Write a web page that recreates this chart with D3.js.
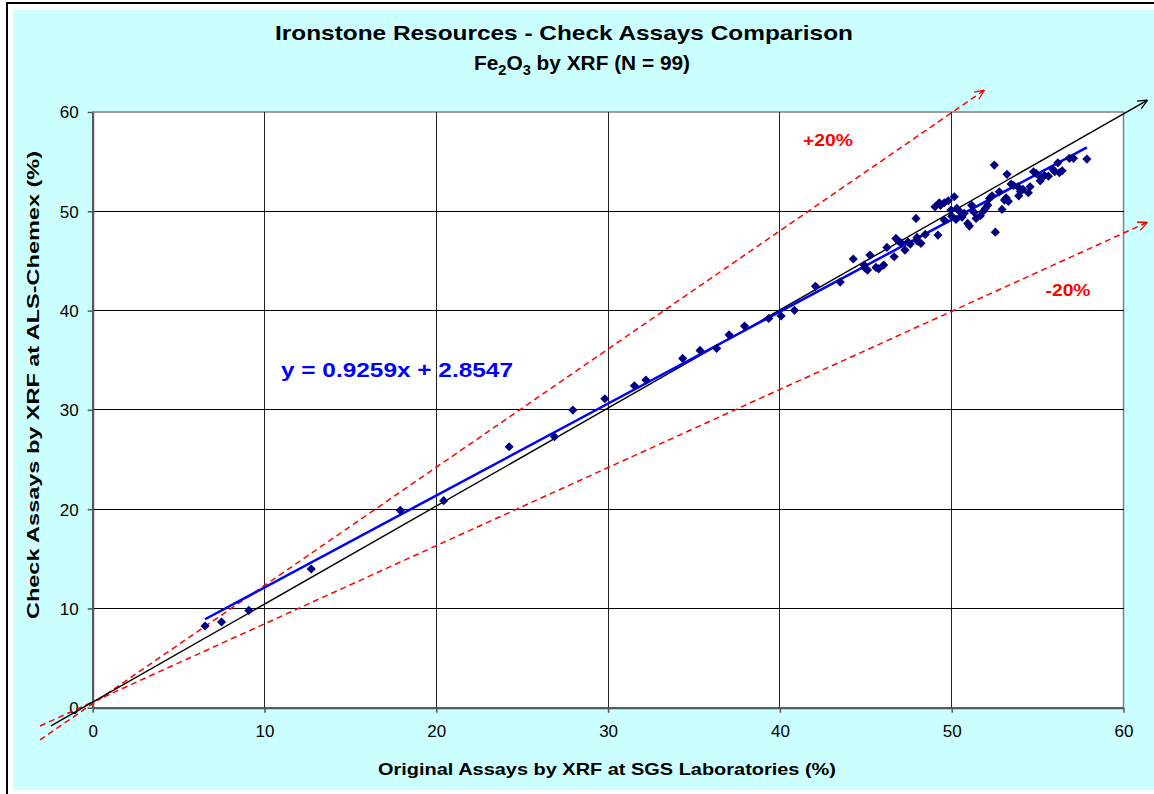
<!DOCTYPE html>
<html>
<head>
<meta charset="utf-8">
<script src="https://cdn.jsdelivr.net/npm/d3@7"></script>
<style>
  body { margin: 0; background: #fff; }
  text { font-family: "Liberation Sans", Arial, sans-serif; }
</style>
</head>
<body>
<svg id="chart"></svg>
<script>
const width = 1154;
const height = 794;

// SGS original assays (x) vs ALS-Chemex checks (y), Fe2O3 %
const sgs = [
  6.54, 7.5, 9.09, 12.72, 17.9, 20.43, 24.24, 26.88, 27.95, 29.81,
  31.53, 32.2, 34.34, 35.35, 36.32, 37.04, 37.94, 39.35, 40.07, 40.85,
  42.07, 43.51, 44.27, 44.9, 45.1, 45.24, 45.59, 46.04, 46.23, 46.65,
  46.75, 47.05, 47.28, 47.59, 47.92, 47.98, 48.21, 48.46, 49.03, 49.2,
  49.28, 49.57, 49.57, 49.8, 50.15, 49.96, 50.25, 50.44, 50.73, 50.93,
  51.03, 51.16, 51.42, 51.67, 51.81, 51.96, 52.1, 52.35, 52.48, 52.54,
  52.77, 52.93, 53.07, 53.17, 53.22, 53.46, 53.85, 53.9, 54.14, 54.46,
  54.56, 54.76, 54.91, 55.15, 55.2, 55.63, 55.9, 56.18, 56.27, 56.43,
  56.85, 57.09, 57.87, 45.75, 47.45, 48.0, 49.35, 50.0, 50.6, 51.3,
  52.2, 53.3, 54.0, 55.4, 56.0, 50.3, 46.9, 44.95, 53.6
];
const als = [
  8.23, 8.63, 9.8, 13.97, 19.88, 20.85, 26.28, 27.29, 29.98, 31.12,
  32.43, 33.0, 35.18, 35.99, 36.19, 37.56, 38.44, 39.21, 39.45, 40.02,
  42.44, 42.87, 45.19, 44.58, 44.08, 45.59, 44.35, 44.58, 46.36, 45.42,
  47.27, 46.83, 46.09, 46.7, 49.28, 47.37, 46.77, 47.67, 50.45, 47.6,
  50.86, 50.86, 49.11, 51.06, 51.46, 50.12, 49.18, 50.02, 49.79, 48.78,
  48.51, 50.62, 49.28, 49.55, 49.95, 50.29, 50.62, 51.56, 54.65, 47.9,
  51.96, 50.19, 51.13, 51.36, 53.72, 52.74, 52.47, 51.56, 52.21, 51.87,
  52.47, 53.98, 53.82, 53.07, 53.41, 53.54, 54.22, 54.88, 53.88, 54.08,
  55.33, 55.33, 55.26, 44.2, 46.9, 47.0, 50.6, 49.5, 49.4, 49.9,
  51.3, 51.0, 52.0, 53.6, 54.0, 50.3, 47.0, 44.3, 52.6
];

const tickValues = [0, 10, 20, 30, 40, 50, 60];
const trendSlope = 0.9259;
const trendIntercept = 2.8547;

// drawn reference lines (end points in data units)
const oneToOne = [[-2.43, -1.84], [61.4, 61.2]];
const plus20 = [[-3.07, -3.25], [51.9, 62.2]];
const minus20 = [[-3.07, -1.84], [61.4, 48.9]];

const x = d3.scaleLinear().domain([0, 60]).range([92.7, 1123.5]);
const y = d3.scaleLinear().domain([0, 60]).range([707.7, 112]);

const svg = d3.select("#chart")
  .attr("width", width)
  .attr("height", height);

svg.append("rect")
  .attr("x", 0).attr("y", 0)
  .attr("width", width).attr("height", height)
  .attr("fill", "#fff");

// outer chart frame
svg.append("rect")
  .attr("x", 7).attr("y", 3)
  .attr("width", 1170).attr("height", 820)
  .attr("fill", "#fff")
  .attr("stroke", "#000")
  .attr("stroke-width", 2);

svg.append("rect")
  .attr("x", 13).attr("y", 10)
  .attr("width", 1160).attr("height", 780)
  .attr("fill", "#ccffff");

const defs = svg.append("defs");
function arrow(id, color) {
  defs.append("marker")
    .attr("id", id)
    .attr("viewBox", "0 0 10 10")
    .attr("refX", 10).attr("refY", 5)
    .attr("markerWidth", 10).attr("markerHeight", 10)
    .attr("markerUnits", "userSpaceOnUse")
    .attr("orient", "auto")
    .append("path")
    .attr("d", "M0,0.5 L10,5 L0,9.5")
    .attr("fill", "none")
    .attr("stroke", color)
    .attr("stroke-width", 1.3);
}
arrow("arrow-black", "#000");
arrow("arrow-red", "#ff0000");

// plot area
svg.append("rect")
  .attr("x", x(0)).attr("y", y(60))
  .attr("width", x(60) - x(0)).attr("height", y(0) - y(60))
  .attr("fill", "#fff")
  .attr("stroke", "#808080")
  .attr("stroke-width", 1.5);

const grid = svg.append("g").attr("shape-rendering", "crispEdges");
grid.selectAll(".vgrid")
  .data(tickValues.slice(1, -1))
  .enter()
  .append("line")
  .classed("vgrid", true)
  .attr("x1", d => x(d)).attr("x2", d => x(d))
  .attr("y1", y(0)).attr("y2", y(60))
  .attr("stroke", "#222")
  .attr("stroke-width", 1);
grid.selectAll(".hgrid")
  .data(tickValues.slice(1, -1))
  .enter()
  .append("line")
  .classed("hgrid", true)
  .attr("x1", x(0)).attr("x2", x(60))
  .attr("y1", d => y(d)).attr("y2", d => y(d))
  .attr("stroke", "#000")
  .attr("stroke-width", 1);

// axes
const xAxis = svg.append("g")
  .attr("transform", `translate(0,${y(0)})`)
  .call(d3.axisBottom(x).tickValues(tickValues).tickSize(5).tickSizeOuter(0).tickPadding(12));
const yAxis = svg.append("g")
  .attr("transform", `translate(${x(0)},0)`)
  .call(d3.axisLeft(y).tickValues(tickValues).tickSize(5).tickSizeOuter(0).tickPadding(9));

[xAxis, yAxis].forEach(ax => {
  ax.select(".domain").attr("stroke", "#555").attr("stroke-width", 2);
  ax.selectAll(".tick line").attr("stroke", "#555").attr("stroke-width", 1.5);
  ax.selectAll(".tick text")
    .attr("fill", "#000")
    .style("font-size", "17px")
    .style("font-family", "'Liberation Sans', Arial, sans-serif");
});
yAxis.selectAll(".tick text").attr("dy", "0.35em");

const line = d3.line().x(d => x(d[0])).y(d => y(d[1]));

// +/-20% envelopes
[plus20, minus20].forEach(pts => {
  svg.append("path")
    .attr("d", line(pts))
    .attr("fill", "none")
    .attr("stroke", "#ff0000")
    .attr("stroke-width", 1.5)
    .attr("stroke-dasharray", "6,4")
    .attr("marker-end", "url(#arrow-red)");
});

// 1:1 line
svg.append("path")
  .attr("d", line(oneToOne))
  .attr("fill", "none")
  .attr("stroke", "#000")
  .attr("stroke-width", 1.4)
  .attr("marker-end", "url(#arrow-black)");

// linear trend
const xmin = d3.min(sgs), xmax = d3.max(sgs);
svg.append("path")
  .attr("d", line([[xmin, trendSlope * xmin + trendIntercept], [xmax, trendSlope * xmax + trendIntercept]]))
  .attr("fill", "none")
  .attr("stroke", "#0000ff")
  .attr("stroke-width", 2.5);

// data points
const diamond = d3.symbol().type(d3.symbolSquare).size(42);
svg.append("g")
  .selectAll("path")
  .data(sgs.map((v, i) => [v, als[i]]))
  .enter()
  .append("path")
  .attr("d", diamond)
  .attr("transform", d => `translate(${x(d[0])},${y(d[1])}) rotate(45)`)
  .attr("fill", "#000080");

// texts (the original picture is a little stretched, so widths are fixed)
function label(txt, px, py, size, len, color) {
  return svg.append("text")
    .attr("x", px).attr("y", py)
    .attr("text-anchor", "middle")
    .attr("fill", color || "#000")
    .attr("textLength", len)
    .attr("lengthAdjust", "spacingAndGlyphs")
    .style("font-size", size + "px").style("font-weight", "bold")
    .text(txt);
}

label("Ironstone Resources - Check Assays Comparison", 564, 40, 21, 578);

const sub = svg.append("text")
  .attr("x", 582).attr("y", 70)
  .attr("text-anchor", "middle")
  .attr("textLength", 216)
  .attr("lengthAdjust", "spacingAndGlyphs")
  .style("font-size", "20px").style("font-weight", "bold");
sub.append("tspan").text("Fe");
sub.append("tspan").attr("dy", 5).style("font-size", "14px").text("2");
sub.append("tspan").attr("dy", -5).text("O");
sub.append("tspan").attr("dy", 5).style("font-size", "14px").text("3");
sub.append("tspan").attr("dy", -5).text(" by XRF (N = 99)");

label("Original Assays by XRF at SGS Laboratories (%)", 607, 775, 17, 458);

svg.append("text")
  .attr("transform", "translate(39,385) rotate(-90)")
  .attr("text-anchor", "middle")
  .attr("textLength", 468)
  .attr("lengthAdjust", "spacingAndGlyphs")
  .style("font-size", "17px").style("font-weight", "bold")
  .text("Check Assays by XRF at ALS-Chemex (%)");

label("y = 0.9259x + 2.8547", 397, 377, 21, 232, "#0000ff");
label("+20%", 828, 146, 17, 50, "#ff0000");
label("-20%", 1068, 296, 17, 45, "#ff0000");
</script>
</body>
</html>
